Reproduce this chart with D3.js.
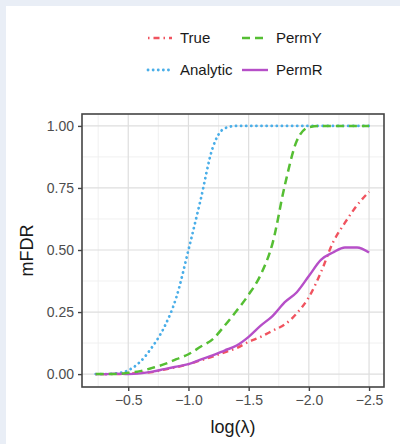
<!DOCTYPE html>
<html>
<head>
<meta charset="utf-8">
<script src="https://cdn.jsdelivr.net/npm/d3@7"></script>
<style>
  body { margin: 0; background: #e9eef6; }
  #chart { position: absolute; left: 6px; top: 6px; width: 394px; height: 438px; background: #fff; }
  text { font-family: "Liberation Sans", Arial, sans-serif; }
</style>
</head>
<body>
<div id="chart"></div>
<script>
const width = 400;
const height = 444;

// data
const lambda  = [-0.23, -0.3, -0.4, -0.5, -0.6, -0.7, -0.8, -0.9, -1.0, -1.1, -1.2, -1.3, -1.4, -1.5, -1.6, -1.7, -1.8, -1.9, -2.0, -2.1, -2.2, -2.3, -2.4, -2.5];
const trueFdr = [0, 0, 0, 0.002, 0.005, 0.008, 0.018, 0.028, 0.04, 0.055, 0.07, 0.088, 0.105, 0.13, 0.15, 0.175, 0.2, 0.245, 0.31, 0.41, 0.53, 0.61, 0.68, 0.735];
const analytic = [0, 0, 0.003, 0.015, 0.05, 0.11, 0.19, 0.31, 0.5, 0.7, 0.91, 0.99, 1, 1, 1, 1, 1, 1, 1, 1, 1, 1, 1, 1];
const permY   = [0, 0, 0, 0.005, 0.012, 0.025, 0.04, 0.06, 0.08, 0.11, 0.14, 0.195, 0.255, 0.32, 0.4, 0.53, 0.76, 0.94, 0.995, 1, 1, 1, 1, 1];
const permR   = [0, 0, 0.002, 0, 0.003, 0.01, 0.02, 0.03, 0.04, 0.058, 0.075, 0.095, 0.115, 0.15, 0.195, 0.235, 0.29, 0.33, 0.395, 0.46, 0.49, 0.51, 0.51, 0.49];

const seriesNames = ["True", "Analytic", "PermY", "PermR"];
const seriesVals = [trueFdr, analytic, permY, permR];
const colors = ["#f0535f", "#4aaee8", "#55be33", "#b64fc8"];
const dashes = ["1.5 4 6 4", "0.1 5", "8 5", null];
const widths = [2.4, 2.8, 2.5, 2.4];

const xTicks = [-0.5, -1.0, -1.5, -2.0, -2.5];
const yTicks = [0, 0.25, 0.5, 0.75, 1.0];

const panel = { left: 82, top: 114, right: 384, bottom: 387 };

const svg = d3.select("body")
    .append("svg")
    .style("position", "absolute")
    .style("left", "0px")
    .style("top", "0px")
    .attr("width", width)
    .attr("height", height);

const x = d3.scaleLinear().domain([-0.116, -2.624]).range([panel.left, panel.right]);
const y = d3.scaleLinear().domain([-0.052, 1.048]).range([panel.bottom, panel.top]);

// grid
const grid = svg.append("g");
const xMinor = [-0.25, -0.75, -1.25, -1.75, -2.25];
const yMinor = [0.125, 0.375, 0.625, 0.875];
grid.selectAll(".xm").data(xMinor).enter().append("line")
    .attr("x1", d => x(d)).attr("x2", d => x(d))
    .attr("y1", panel.top).attr("y2", panel.bottom)
    .attr("stroke", "#eeeeee").attr("stroke-width", 0.9);
grid.selectAll(".ym").data(yMinor).enter().append("line")
    .attr("y1", d => y(d)).attr("y2", d => y(d))
    .attr("x1", panel.left).attr("x2", panel.right)
    .attr("stroke", "#eeeeee").attr("stroke-width", 0.9);
grid.selectAll(".xM").data(xTicks).enter().append("line")
    .attr("x1", d => x(d)).attr("x2", d => x(d))
    .attr("y1", panel.top).attr("y2", panel.bottom)
    .attr("stroke", "#dedede").attr("stroke-width", 1.2);
grid.selectAll(".yM").data(yTicks).enter().append("line")
    .attr("y1", d => y(d)).attr("y2", d => y(d))
    .attr("x1", panel.left).attr("x2", panel.right)
    .attr("stroke", "#dedede").attr("stroke-width", 1.2);

// lines
const line = d3.line()
    .x((d, i) => x(lambda[i]))
    .y(d => y(d))
    .curve(d3.curveMonotoneX);

const drawOrder = [1, 0, 3, 2];
drawOrder.forEach(k => {
    svg.append("path")
        .attr("d", line(seriesVals[k]))
        .attr("fill", "none")
        .attr("stroke", colors[k])
        .attr("stroke-width", widths[k])
        .attr("stroke-linecap", k === 1 ? "round" : "butt")
        .attr("stroke-dasharray", dashes[k]);
});

// panel border
svg.append("rect")
    .attr("x", panel.left).attr("y", panel.top)
    .attr("width", panel.right - panel.left).attr("height", panel.bottom - panel.top)
    .attr("fill", "none").attr("stroke", "#444").attr("stroke-width", 1.6);

// axes
const xAxis = svg.append("g")
    .attr("transform", `translate(0,${panel.bottom})`)
    .call(d3.axisBottom(x).tickValues(xTicks).tickFormat(d3.format(".1f")).tickSize(4).tickPadding(4));
const yAxis = svg.append("g")
    .attr("transform", `translate(${panel.left},0)`)
    .call(d3.axisLeft(y).tickValues(yTicks).tickFormat(d3.format(".2f")).tickSize(4).tickPadding(4));
[xAxis, yAxis].forEach(a => {
    a.select(".domain").remove();
    a.selectAll(".tick line").attr("stroke", "#444").attr("stroke-width", 1.4);
    a.selectAll(".tick text").attr("fill", "#4d4d4d").style("font-size", "14px")
        .style("font-family", "'Liberation Sans', Arial, sans-serif");
});

// axis titles
svg.append("text")
    .attr("x", (panel.left + panel.right) / 2)
    .attr("y", 433)
    .attr("text-anchor", "middle")
    .style("font-size", "18px")
    .attr("fill", "#1a1a1a")
    .text("log(λ)");
svg.append("text")
    .attr("transform", `translate(33,${(panel.top + panel.bottom) / 2}) rotate(-90)`)
    .attr("text-anchor", "middle")
    .style("font-size", "18px")
    .attr("fill", "#1a1a1a")
    .text("mFDR");

// legend
const legendPos = [[148, 38], [148, 70], [242, 38], [242, 70]];
const legend = svg.append("g");
seriesNames.forEach((name, k) => {
    const [lx, ly] = legendPos[k];
    const keyW = k >= 2 ? 26 : 24;
    legend.append("line")
        .attr("x1", lx).attr("x2", lx + keyW)
        .attr("y1", ly).attr("y2", ly)
        .attr("stroke", colors[k])
        .attr("stroke-width", widths[k])
        .attr("stroke-linecap", k === 1 ? "round" : "butt")
        .attr("stroke-dasharray", dashes[k]);
    legend.append("text")
        .attr("x", lx + keyW + 8)
        .attr("y", ly)
        .attr("dy", "0.35em")
        .style("font-size", "15px")
        .attr("fill", "#1a1a1a")
        .text(name);
});
</script>
</body>
</html>
